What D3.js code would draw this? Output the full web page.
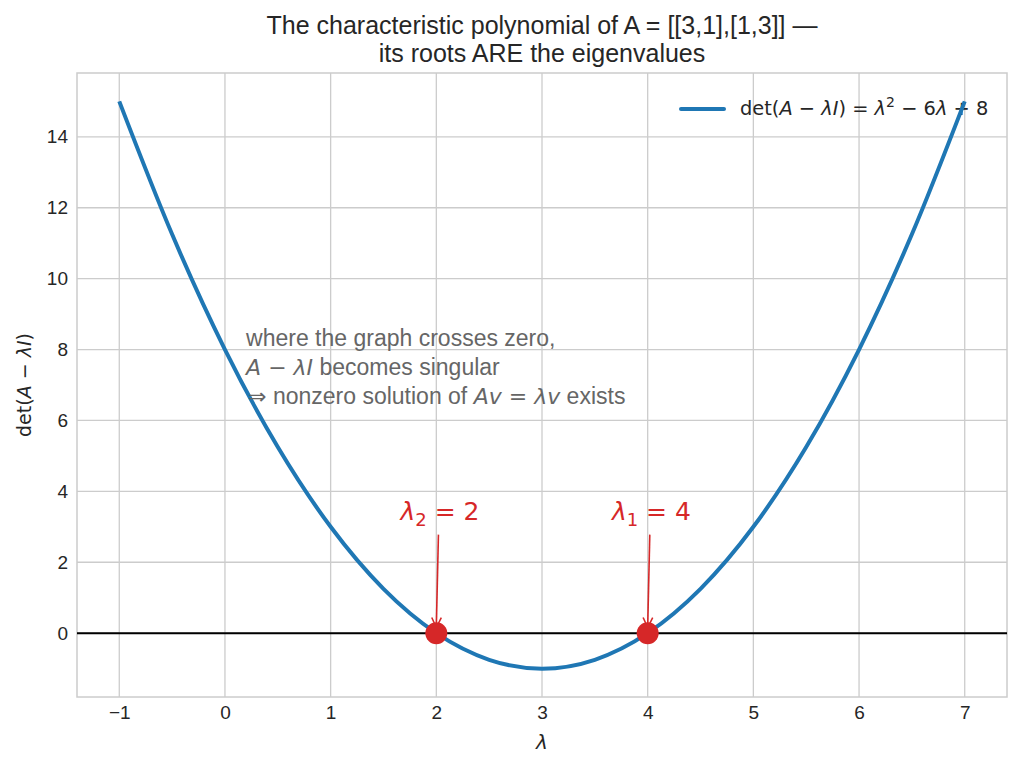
<!DOCTYPE html>
<html>
<head>
<meta charset="utf-8">
<script src="https://cdn.jsdelivr.net/npm/d3@7"></script>
<style>
  body { margin: 0; background: #fff; }
  text { font-family: "Liberation Sans", Arial, sans-serif; fill: #262626; }
  .math { font-family: "DejaVu Sans", sans-serif; }
</style>
</head>
<body>
<div id="chart"></div>
<script>
const lambdas = [-1, -0.5, 0, 0.5, 1, 1.5, 2, 2.5, 3, 3.5, 4, 4.5, 5, 5.5, 6, 6.5, 7];
const dets = [15, 11.25, 8, 5.25, 3, 1.25, 0, -0.75, -1, -0.75, 0, 1.25, 3, 5.25, 8, 11.25, 15];
const roots = [2, 4];
const rootNames = ["2", "1"];
const xTicks = [-1, 0, 1, 2, 3, 4, 5, 6, 7];
const yTicks = [0, 2, 4, 6, 8, 10, 12, 14];

/** CONSTANTS */
const width = 1021;
const height = 767;
const margins = {top: 73, bottom: 70, left: 77, right: 14};
const blue = "#1f77b4";
const red = "#d62728";

const points = lambdas.map((l, i) => ({l: l, d: dets[i]}));

/** SCALES */
const xScale = d3.scaleLinear()
  .domain([-1.4, 7.4])
  .range([margins.left, width - margins.right]);

const yScale = d3.scaleLinear()
  .domain([-1.8, 15.8])
  .range([height - margins.bottom, margins.top]);

/** DRAWING ELEMENTS */
const svg = d3.select("#chart")
  .append("svg")
  .attr("width", width)
  .attr("height", height);

svg.append("defs").append("clipPath").attr("id", "clip")
  .append("rect")
  .attr("x", margins.left).attr("y", margins.top)
  .attr("width", width - margins.left - margins.right)
  .attr("height", height - margins.top - margins.bottom);

// grid
svg.append("g")
  .selectAll("line")
  .data(xTicks)
  .join("line")
  .attr("x1", d => xScale(d)).attr("x2", d => xScale(d))
  .attr("y1", margins.top).attr("y2", height - margins.bottom)
  .attr("stroke", "#cccccc").attr("stroke-width", 1.3);

svg.append("g")
  .selectAll("line")
  .data(yTicks)
  .join("line")
  .attr("y1", d => yScale(d)).attr("y2", d => yScale(d))
  .attr("x1", margins.left).attr("x2", width - margins.right)
  .attr("stroke", "#cccccc").attr("stroke-width", 1.3);

// frame
svg.append("rect")
  .attr("x", margins.left).attr("y", margins.top)
  .attr("width", width - margins.left - margins.right)
  .attr("height", height - margins.top - margins.bottom)
  .attr("fill", "none")
  .attr("stroke", "#cccccc").attr("stroke-width", 1.5);

// axes (labels only, seaborn whitegrid has no tick marks)
const xAxis = svg.append("g")
  .attr("transform", `translate(0,${height - margins.bottom})`)
  .call(d3.axisBottom(xScale).tickValues(xTicks).tickSize(0).tickPadding(9)
    .tickFormat(d => d < 0 ? "\u2212" + Math.abs(d) : d));
xAxis.select(".domain").remove();
xAxis.selectAll("text").attr("font-size", 19).attr("fill", "#262626")
  .attr("font-family", "Liberation Sans, Arial, sans-serif");

const yAxis = svg.append("g")
  .attr("transform", `translate(${margins.left},0)`)
  .call(d3.axisLeft(yScale).tickValues(yTicks).tickSize(0).tickPadding(9));
yAxis.select(".domain").remove();
yAxis.selectAll("text").attr("font-size", 19).attr("fill", "#262626")
  .attr("font-family", "Liberation Sans, Arial, sans-serif");

// zero line
svg.append("line")
  .attr("x1", margins.left).attr("x2", width - margins.right)
  .attr("y1", yScale(0)).attr("y2", yScale(0))
  .attr("stroke", "#000").attr("stroke-width", 2);

// legend (drawn under the curve, as in the picture)
const leg = svg.append("g");
leg.append("line")
  .attr("x1", 681).attr("x2", 724).attr("y1", 109).attr("y2", 109)
  .attr("stroke", blue).attr("stroke-width", 4).attr("stroke-linecap", "round");
const legText = leg.append("text").attr("class", "math")
  .attr("x", 740).attr("y", 115).attr("font-size", 19.4);
legText.append("tspan").text("det(");
legText.append("tspan").attr("font-style", "italic").text("A");
legText.append("tspan").text(" \u2212 ");
legText.append("tspan").attr("font-style", "italic").text("\u03bbI");
legText.append("tspan").text(") = ");
legText.append("tspan").attr("font-style", "italic").text("\u03bb");
legText.append("tspan").attr("font-size", 14).attr("dy", -8).text("2");
legText.append("tspan").attr("dy", 8).text(" \u2212 6");
legText.append("tspan").attr("font-style", "italic").text("\u03bb");
legText.append("tspan").text(" + 8");

// curve
const line = d3.line()
  .x(d => xScale(d.l))
  .y(d => yScale(d.d))
  .curve(d3.curveCatmullRom.alpha(0));

svg.append("path")
  .datum(points)
  .attr("clip-path", "url(#clip)")
  .attr("d", line)
  .attr("fill", "none")
  .attr("stroke", blue)
  .attr("stroke-width", 4);

// annotation text
const noteX = xScale(0.2);
const mathFont = "DejaVu Sans";
const note = svg.append("text")
  .attr("x", noteX).attr("y", 346)
  .attr("font-size", 23)
  .style("fill", "#666666");
note.append("tspan").attr("x", noteX).text("where the graph crosses zero,");
const l2 = note.append("tspan").attr("x", noteX).attr("dy", 29);
l2.append("tspan").attr("font-family", mathFont).attr("font-size", 22).attr("font-style", "italic").text("A");
l2.append("tspan").attr("font-family", mathFont).attr("font-size", 22).text(" \u2212 ");
l2.append("tspan").attr("font-family", mathFont).attr("font-size", 22).attr("font-style", "italic").text("\u03bbI");
l2.append("tspan").text(" becomes singular");
const l3 = note.append("tspan").attr("x", noteX + 2).attr("dy", 29);
l3.append("tspan").attr("font-family", mathFont).attr("font-size", 22).text("\u21d2");
l3.append("tspan").text("  nonzero solution of ");
l3.append("tspan").attr("font-family", mathFont).attr("font-size", 22).attr("font-style", "italic").text("Av");
l3.append("tspan").attr("font-family", mathFont).attr("font-size", 22).text(" = ");
l3.append("tspan").attr("font-family", mathFont).attr("font-size", 22).attr("font-style", "italic").text("\u03bbv");
l3.append("tspan").text(" exists");

// arrows to the roots
const arrowHead = 11;
svg.selectAll("g.arrow")
  .data(roots)
  .join("g")
  .attr("class", "arrow")
  .each(function(r) {
    const g = d3.select(this);
    const x0 = xScale(r + 0.02), y0 = yScale(2.78);
    const x1 = xScale(r), y1 = yScale(0.16);
    const ang = Math.atan2(y1 - y0, x1 - x0);
    g.append("line")
      .attr("x1", x0).attr("y1", y0).attr("x2", x1).attr("y2", y1)
      .attr("stroke", red).attr("stroke-width", 1.6);
    [-0.45, 0.45].forEach(a => {
      g.append("line")
        .attr("x1", x1).attr("y1", y1)
        .attr("x2", x1 - arrowHead * Math.cos(ang + a))
        .attr("y2", y1 - arrowHead * Math.sin(ang + a))
        .attr("stroke", red).attr("stroke-width", 1.6);
    });
  });

// root labels
svg.selectAll("text.root")
  .data(roots)
  .join("text")
  .attr("class", "root math")
  .attr("x", d => xScale(d + 0.035))
  .attr("y", yScale(3.19))
  .attr("text-anchor", "middle")
  .attr("font-size", 25)
  .style("fill", red)
  .each(function(d, i) {
    const t = d3.select(this);
    t.append("tspan").attr("font-style", "italic").text("\u03bb");
    t.append("tspan").attr("font-size", 18).attr("dy", 6).text(rootNames[i]);
    t.append("tspan").attr("dy", -6).text(" = " + d);
  });

// root dots
svg.selectAll("circle.root")
  .data(roots)
  .join("circle")
  .attr("class", "root")
  .attr("cx", d => xScale(d))
  .attr("cy", yScale(0))
  .attr("r", 11)
  .attr("fill", red);

// title and axis labels
const titleX = (margins.left + width - margins.right) / 2;
const title = svg.append("text")
  .attr("text-anchor", "middle")
  .attr("font-size", 25);
title.append("tspan").attr("x", titleX).attr("y", 34)
  .text("The characteristic polynomial of A = [[3,1],[1,3]] \u2014");
title.append("tspan").attr("x", titleX).attr("y", 62)
  .text("its roots ARE the eigenvalues");

svg.append("text")
  .attr("class", "math")
  .attr("x", xScale(3)).attr("y", 749)
  .attr("text-anchor", "middle")
  .attr("font-size", 20)
  .attr("font-style", "italic")
  .text("\u03bb");

const yl = svg.append("text")
  .attr("class", "math")
  .attr("transform", `translate(31,${(margins.top + height - margins.bottom) / 2}) rotate(-90)`)
  .attr("text-anchor", "middle")
  .attr("font-size", 19);
yl.append("tspan").text("det(");
yl.append("tspan").attr("font-style", "italic").text("A");
yl.append("tspan").text(" \u2212 ");
yl.append("tspan").attr("font-style", "italic").text("\u03bbI");
yl.append("tspan").text(")");
</script>
</body>
</html>
